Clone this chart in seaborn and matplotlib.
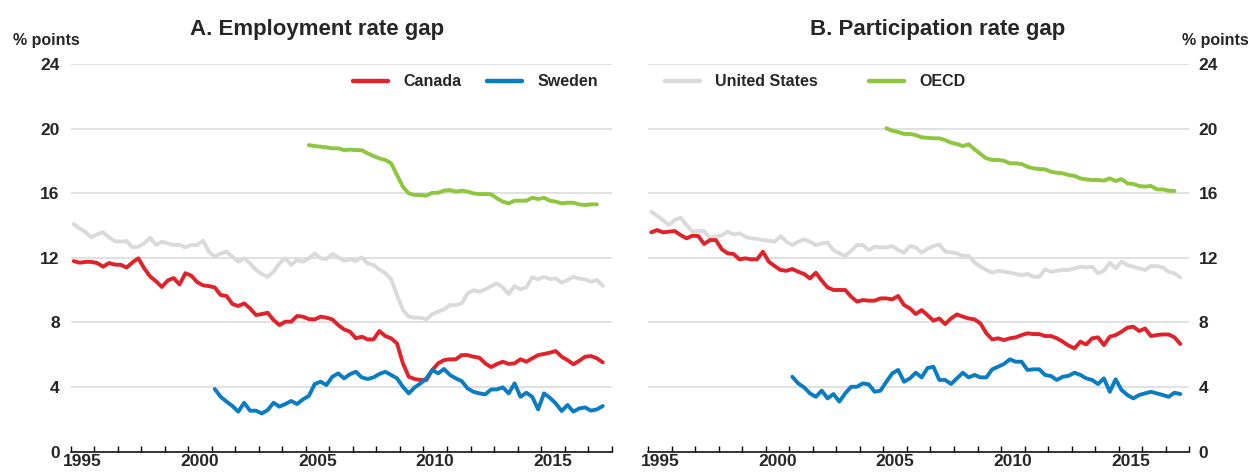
import numpy as np
import pandas as pd
import matplotlib
matplotlib.use("Agg")
import matplotlib.pyplot as plt
from matplotlib.lines import Line2D
import seaborn as sns

# quarterly series, first value = start quarter
canada_emp_start = "1995Q1"
canada_emp = [11.8, 11.7, 11.75, 11.75, 11.68, 11.45, 11.68, 11.58, 11.57, 11.4, 11.72, 11.97,
              11.35, 10.85, 10.55, 10.2, 10.6, 10.75, 10.35, 11.05, 10.9, 10.5, 10.3, 10.25,
              10.17, 9.7, 9.64, 9.14, 9.02, 9.18, 8.87, 8.46, 8.52, 8.6, 8.15, 7.84,
              8.05, 8.05, 8.4, 8.36, 8.21, 8.19, 8.36, 8.3, 8.19, 7.84, 7.57, 7.43,
              7.02, 7.12, 6.95, 6.95, 7.47, 7.16, 7.02, 6.7, 5.47, 4.64, 4.5, 4.44,
              4.44, 5.06, 5.47, 5.67, 5.72, 5.72, 5.98, 5.98, 5.88, 5.82, 5.47, 5.24,
              5.43, 5.57, 5.43, 5.47, 5.72, 5.57, 5.78, 5.98, 6.05, 6.13, 6.23, 5.88,
              5.67, 5.41, 5.63, 5.88, 5.92, 5.78, 5.53]
us_emp_start = "1995Q1"
us_emp = [14.09, 13.83, 13.6, 13.27, 13.45, 13.58, 13.27, 13.04, 13.0, 13.04, 12.65, 12.69,
          12.9, 13.25, 12.8, 13.0, 12.9, 12.8, 12.8, 12.65, 12.8, 12.8, 13.06, 12.38,
          12.07, 12.28, 12.38, 12.07, 11.76, 11.97, 11.66, 11.25, 11.0, 10.83, 11.14, 11.66,
          11.97, 11.56, 11.87, 11.76, 11.97, 12.28, 11.97, 11.93, 12.24, 12.03, 11.82, 11.9,
          11.82, 12.03, 11.66, 11.56, 11.29, 11.04, 10.67, 9.7, 8.77, 8.36, 8.3, 8.3,
          8.19, 8.52, 8.67, 8.81, 9.08, 9.08, 9.18, 9.8, 10.0, 9.9, 10.05, 10.25,
          10.42, 10.17, 9.76, 10.26, 10.05, 10.17, 10.79, 10.67, 10.83, 10.69, 10.73, 10.46,
          10.63, 10.83, 10.71, 10.67, 10.52, 10.63, 10.26]
sweden_emp_start = "2001Q1"
sweden_emp = [3.88, 3.4, 3.1, 2.83, 2.48, 3.03, 2.54, 2.54, 2.37, 2.58, 3.03, 2.79,
              2.95, 3.14, 2.95, 3.24, 3.45, 4.19, 4.33, 4.13, 4.64, 4.85, 4.54, 4.8,
              4.95, 4.6, 4.5, 4.6, 4.81, 4.95, 4.75, 4.54, 4.02, 3.61, 3.98, 4.23,
              4.54, 5.06, 4.85, 5.12, 4.75, 4.54, 4.37, 3.92, 3.71, 3.61, 3.55, 3.85,
              3.86, 3.98, 3.61, 4.23, 3.4, 3.65, 3.4, 2.62, 3.61, 3.34, 2.99, 2.52,
              2.89, 2.48, 2.68, 2.74, 2.54, 2.62, 2.83]
oecd_emp_start = "2005Q1"
oecd_emp = [18.98, 18.92, 18.88, 18.84, 18.78, 18.78, 18.67, 18.7,
            18.67, 18.67, 18.47, 18.3, 18.16, 18.06, 17.85, 17.13, 16.4, 15.99, 15.89, 15.89,
            15.85, 16.03, 16.03, 16.16, 16.2, 16.1, 16.16, 16.1, 15.99, 15.95, 15.95, 15.94,
            15.68, 15.48, 15.37, 15.54, 15.54, 15.54, 15.72, 15.64, 15.72, 15.54, 15.48, 15.37,
            15.41, 15.41, 15.31, 15.27, 15.31, 15.31]

canada_part_start = "1995Q1"
canada_part = [13.58, 13.72, 13.58, 13.62, 13.66, 13.41, 13.21, 13.37, 13.35, 12.86, 13.1, 13.1,
               12.53, 12.28, 12.24, 11.91, 11.97, 11.91, 11.91, 12.38, 11.76, 11.49, 11.25, 11.2,
               11.31, 11.14, 11.0, 10.73, 11.08, 10.59, 10.17, 10.01, 10.01, 10.01, 9.6, 9.29,
               9.39, 9.35, 9.35, 9.49, 9.49, 9.43, 9.64, 9.08, 8.87, 8.52, 8.77, 8.45,
               8.11, 8.25, 7.9, 8.25, 8.5, 8.36, 8.25, 8.19, 7.94, 7.33, 6.95, 7.02,
               6.91, 7.02, 7.08, 7.22, 7.33, 7.28, 7.28, 7.16, 7.16, 7.02, 6.81, 6.57,
               6.4, 6.81, 6.64, 7.02, 7.08, 6.6, 7.12, 7.22, 7.43, 7.68, 7.74, 7.47,
               7.63, 7.16, 7.22, 7.26, 7.26, 7.08, 6.67]
us_part_start = "1995Q1"
us_part = [14.86, 14.61, 14.34, 14.03, 14.34, 14.49, 14.03, 13.62, 13.66, 13.66, 13.21, 13.31,
           13.39, 13.62, 13.45, 13.52, 13.31, 13.21, 13.17, 13.1, 13.06, 13.0, 13.35, 13.0,
           12.79, 13.0, 13.14, 13.0, 12.79, 12.9, 12.94, 12.48, 12.28, 12.11, 12.44, 12.79,
           12.79, 12.48, 12.69, 12.65, 12.65, 12.73, 12.48, 12.32, 12.73, 12.65, 12.32, 12.56,
           12.73, 12.83, 12.38, 12.34, 12.28, 12.11, 12.13, 11.72, 11.45, 11.25, 11.08, 11.2,
           11.14, 11.08, 11.0, 10.94, 11.0, 10.83, 10.83, 11.29, 11.14, 11.2, 11.25, 11.25,
           11.35, 11.45, 11.41, 11.45, 11.04, 11.2, 11.7, 11.35, 11.76, 11.56, 11.45, 11.35,
           11.25, 11.49, 11.49, 11.41, 11.14, 11.04, 10.79]
sweden_part_start = "2001Q1"
sweden_part = [4.64, 4.23, 3.98, 3.61, 3.4, 3.78, 3.3, 3.57, 3.1, 3.61, 4.02, 4.02,
               4.23, 4.17, 3.71, 3.78, 4.33, 4.85, 5.06, 4.33, 4.54, 4.89, 4.6, 5.18,
               5.26, 4.44, 4.44, 4.19, 4.54, 4.89, 4.6, 4.75, 4.6, 4.6, 5.1, 5.26,
               5.43, 5.72, 5.57, 5.57, 5.06, 5.1, 5.1, 4.75, 4.68, 4.44, 4.64, 4.7,
               4.89, 4.75, 4.54, 4.44, 4.19, 4.54, 3.71, 4.48, 3.82, 3.51, 3.3, 3.51,
               3.61, 3.71, 3.61, 3.51, 3.4, 3.65, 3.57]
oecd_part_start = "2005Q1"
oecd_part = [20.02, 19.87, 19.79, 19.67, 19.67, 19.6, 19.46, 19.43,
             19.4, 19.4, 19.29, 19.13, 19.05, 18.92, 19.03, 18.72, 18.43, 18.16, 18.06, 18.06,
             18.01, 17.85, 17.85, 17.81, 17.64, 17.54, 17.5, 17.48, 17.33, 17.27, 17.23, 17.13,
             17.07, 16.92, 16.86, 16.82, 16.82, 16.78, 16.92, 16.76, 16.88, 16.61, 16.57, 16.45,
             16.41, 16.45, 16.24, 16.24, 16.16, 16.14]

year_labels = [1995, 2000, 2005, 2010, 2015]
y_ticks = [0, 4, 8, 12, 16, 20, 24]

COLORS = {"United States": "#DADADA", "OECD": "#8DC63F",
          "Canada": "#E0232B", "Sweden": "#0A7DC2"}
ORDER = ["United States", "OECD", "Canada", "Sweden"]


def to_frame(series):
    rows = []
    for name, (start, vals) in series.items():
        per = pd.period_range(start, periods=len(vals), freq="Q")
        t = per.year + (per.quarter - 0.5) / 4
        rows.append(pd.DataFrame({"t": t, "value": vals, "country": name}))
    return pd.concat(rows, ignore_index=True)


emp_df = to_frame({"Canada": (canada_emp_start, canada_emp),
                   "Sweden": (sweden_emp_start, sweden_emp),
                   "United States": (us_emp_start, us_emp),
                   "OECD": (oecd_emp_start, oecd_emp)})
part_df = to_frame({"Canada": (canada_part_start, canada_part),
                    "Sweden": (sweden_part_start, sweden_part),
                    "United States": (us_part_start, us_part),
                    "OECD": (oecd_part_start, oecd_part)})

sns.set_theme(style="white")
plt.rcParams["font.family"] = ["Liberation Sans", "DejaVu Sans"]
plt.rcParams["font.weight"] = "bold"

fig = plt.figure(figsize=(12.52, 4.72), dpi=100)
ax1 = fig.add_axes([0.0565, 0.043, 0.432, 0.8214])
ax2 = fig.add_axes([0.5178, 0.043, 0.432, 0.8214])

for ax, df in [(ax1, emp_df), (ax2, part_df)]:
    sns.lineplot(data=df, x="t", y="value", hue="country", hue_order=ORDER,
                 palette=COLORS, linewidth=2.8, legend=False, ax=ax, sort=False)
    ax.set_xlim(1995, 2018)
    ax.set_ylim(0, 24)
    ax.set_xlabel("")
    ax.set_ylabel("")
    ax.set_axisbelow(True)
    ax.grid(axis="y", color="#D9D9D9", linewidth=1.1)
    ax.grid(axis="x", visible=False)
    for s in ["left", "right", "top"]:
        ax.spines[s].set_visible(False)
    ax.spines["bottom"].set_color("black")
    ax.spines["bottom"].set_linewidth(1.1)
    ax.set_xticks(range(1995, 2019))
    ax.set_xticklabels([])
    ax.set_xticks([y + 0.5 for y in year_labels], minor=True)
    ax.set_xticklabels([str(y) for y in year_labels], minor=True,
                       fontsize=12.5, fontweight="bold")
    ax.tick_params(axis="x", which="major", direction="in", length=4,
                   width=1, color="black", bottom=True)
    ax.tick_params(axis="x", which="minor", length=0, pad=2, bottom=True)
    ax.set_yticks(y_ticks)
    ax.set_yticklabels([str(v) for v in y_ticks], fontsize=12.5, fontweight="bold")
    ax.tick_params(axis="y", length=0, pad=8)

ax2.yaxis.tick_right()
ax2.tick_params(axis="y", length=0, pad=7)

fig.text(317 / 1252, (472 - 35) / 472, "A. Employment rate gap",
         ha="center", va="baseline", fontsize=16, fontweight="bold")
fig.text(938 / 1252, (472 - 35) / 472, "B. Participation rate gap",
         ha="center", va="baseline", fontsize=16, fontweight="bold")
fig.text(46 / 1252, (472 - 45) / 472, "% points",
         ha="center", va="baseline", fontsize=11.5, fontweight="bold")
fig.text(1215 / 1252, (472 - 45) / 472, "% points",
         ha="center", va="baseline", fontsize=11.5, fontweight="bold")


def handles(names):
    return [Line2D([], [], color=COLORS[n], linewidth=3.2) for n in names]


ax1.legend(handles(["Canada", "Sweden"]), ["Canada", "Sweden"], ncol=2,
           loc="center left", bbox_to_anchor=(353 / 1252, (472 - 82) / 472),
           bbox_transform=fig.transFigure, frameon=False, borderpad=0,
           borderaxespad=0, handlelength=2.2, handletextpad=0.95,
           columnspacing=1.6, prop={"size": 11.5, "weight": "bold"})
ax2.legend(handles(["United States", "OECD"]), ["United States", "OECD"], ncol=2,
           loc="center left", bbox_to_anchor=(665 / 1252, (472 - 82) / 472),
           bbox_transform=fig.transFigure, frameon=False, borderpad=0,
           borderaxespad=0, handlelength=2.2, handletextpad=0.95,
           columnspacing=3.2, prop={"size": 11.5, "weight": "bold"})

fig.savefig("out.png", dpi=100)
